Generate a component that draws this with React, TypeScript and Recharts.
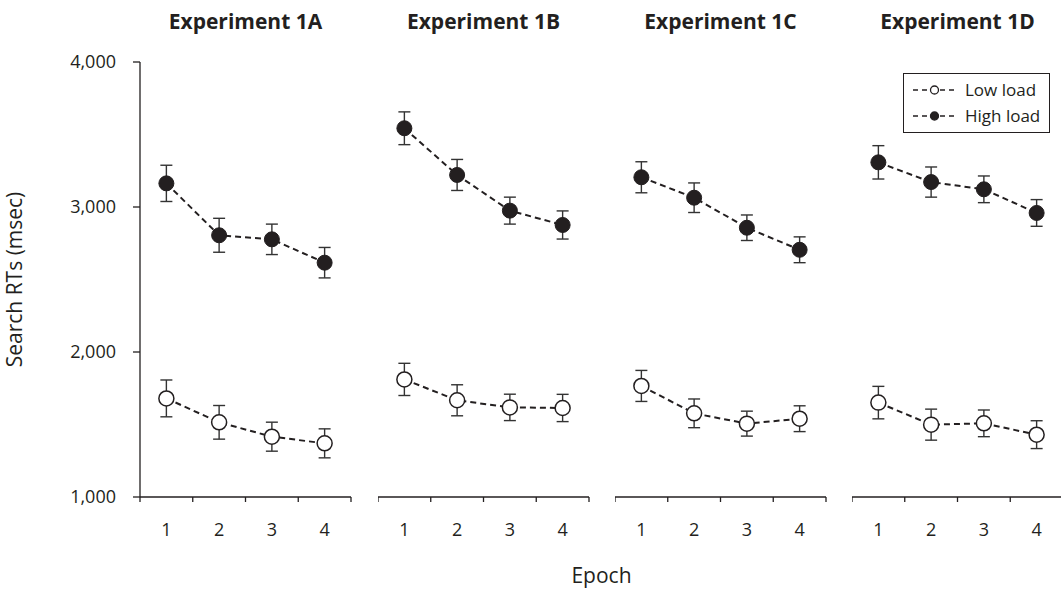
import { LineChart, Line, XAxis, YAxis, ErrorBar, Label } from 'recharts';

const epochs = [1, 2, 3, 4];
const edgeTicks = [0.5, 1.5, 2.5, 3.5, 4.5];
const yTicks = [1000, 2000, 3000, 4000];
const titles = ['Experiment 1A', 'Experiment 1B', 'Experiment 1C', 'Experiment 1D'];
const legendNames = ['Low load', 'High load'];

const high1A = [3163, 2805, 2777, 2616];
const highErr1A = [125, 117, 105, 105];
const low1A = [1680, 1515, 1416, 1370];
const lowErr1A = [127, 116, 100, 100];

const high1B = [3543, 3221, 2975, 2876];
const highErr1B = [113, 107, 93, 97];
const low1B = [1811, 1667, 1618, 1614];
const lowErr1B = [111, 107, 91, 94];

const high1C = [3205, 3064, 2857, 2705];
const highErr1C = [107, 102, 88, 89];
const low1C = [1766, 1577, 1506, 1540];
const lowErr1C = [107, 99, 86, 89];

const high1D = [3308, 3172, 3122, 2959];
const highErr1D = [115, 104, 92, 92];
const low1D = [1651, 1499, 1508, 1430];
const lowErr1D = [112, 107, 92, 96];

const INK = '#231f20';
const FONT = '"Open Sans", sans-serif';

const build = (high: number[], highErr: number[], low: number[], lowErr: number[]) =>
  epochs.map((e, i) => ({ epoch: e, high: high[i], highErr: highErr[i], low: low[i], lowErr: lowErr[i] }));

const panels = [
  build(high1A, highErr1A, low1A, lowErr1A),
  build(high1B, highErr1B, low1B, lowErr1B),
  build(high1C, highErr1C, low1C, lowErr1C),
  build(high1D, highErr1D, low1D, lowErr1D),
];

// left edge of each plot area
const plotLeft = [140, 378, 615, 852];
const plotW = 211;
const PLOT_TOP = 62;
const CH = 593;

const fmtY = (v: number) => v.toLocaleString('en-US');
const blank = () => '';

const LegendBox = () => (
  <div style={{ position: 'absolute', left: 903, top: 73, width: 147, height: 60, boxSizing: 'border-box', border: `1px solid ${INK}`, padding: '3px 0 0 9px', background: '#fff', fontSize: 17, color: INK, lineHeight: '26px' }}>
    {legendNames.map((name, i) => (
      <div key={name} style={{ display: 'flex', alignItems: 'center', whiteSpace: 'nowrap' }}>
        <svg width={43} height={12} style={{ marginRight: 9 }}>
          <line x1={0} y1={6} x2={43} y2={6} stroke={INK} strokeWidth={1.6} strokeDasharray="5 4" />
          <circle cx={21.5} cy={6} r={4} fill={i === 0 ? '#fff' : INK} stroke={INK} strokeWidth={1.3} />
        </svg>
        {name}
      </div>
    ))}
  </div>
);

function Panel({ idx }: { idx: number }) {
  const first = idx === 0;
  const left = first ? 0 : plotLeft[idx];
  const yW = first ? plotLeft[0] : 0;
  const width = yW + plotW + 4;
  return (
    <div style={{ position: 'absolute', left, top: 0, width, height: CH }}>
      <LineChart width={width} height={CH} data={panels[idx]} margin={{ top: PLOT_TOP, right: 4, left: 0, bottom: 50 }}>
        <XAxis xAxisId="edges" dataKey="epoch" type="number" domain={[0.5, 4.5]} ticks={edgeTicks}
          tickFormatter={blank} tickSize={5} height={6} stroke={INK} strokeWidth={1.3} />
        <XAxis xAxisId="labels" dataKey="epoch" type="number" domain={[0.5, 4.5]} ticks={epochs}
          axisLine={false} tickLine={false} tickSize={0} tickMargin={20} height={40}
          tick={{ fill: INK, fontSize: 18, fontFamily: FONT }} />
        <YAxis type="number" domain={[1000, 4000]} ticks={yTicks} hide={!first} width={yW}
          tickFormatter={fmtY} tickSize={7} tickMargin={17} stroke={INK} strokeWidth={1.3}
          tick={{ fill: INK, fontSize: 18, fontFamily: FONT }}>
          <Label value="Search RTs (msec)" angle={-90} position="insideLeft" offset={15}
            style={{ textAnchor: 'middle', fill: INK, fontSize: 21, fontFamily: FONT }} />
        </YAxis>
        <Line xAxisId="edges" dataKey="high" stroke={INK} strokeWidth={2} strokeDasharray="6 4"
          dot={{ r: 7.5, fill: INK, stroke: INK, strokeWidth: 1, strokeDasharray: 'none' }} activeDot={false} isAnimationActive={false}>
          <ErrorBar dataKey="highErr" direction="y" width={6} stroke="#333" strokeWidth={1.4} isAnimationActive={false} />
        </Line>
        <Line xAxisId="edges" dataKey="low" stroke={INK} strokeWidth={2} strokeDasharray="6 4"
          dot={{ r: 7.5, fill: '#fff', stroke: INK, strokeWidth: 1.5, strokeDasharray: 'none' }} activeDot={false} isAnimationActive={false}>
          <ErrorBar dataKey="lowErr" direction="y" width={6} stroke="#333" strokeWidth={1.4} isAnimationActive={false} />
        </Line>
      </LineChart>
    </div>
  );
}

export default function App() {
  return (
    <div style={{ position: 'absolute', left: 0, top: 0, width: 1061, height: CH, background: '#fff', overflow: 'hidden', fontFamily: FONT }}>
      {titles.map((t, i) => (
        <div key={t} style={{ position: 'absolute', left: plotLeft[i] - 20, top: 6, width: plotW + 40, textAlign: 'center', fontWeight: 700, fontSize: 21, color: INK, lineHeight: '30px' }}>
          {t}
        </div>
      ))}
      {panels.map((_, i) => <Panel key={i} idx={i} />)}
      <LegendBox />
      <div style={{ position: 'absolute', left: plotLeft[0], width: plotLeft[3] + plotW - plotLeft[0], top: 560, textAlign: 'center', fontSize: 21, color: INK, lineHeight: '30px' }}>
        Epoch
      </div>
    </div>
  );
}
